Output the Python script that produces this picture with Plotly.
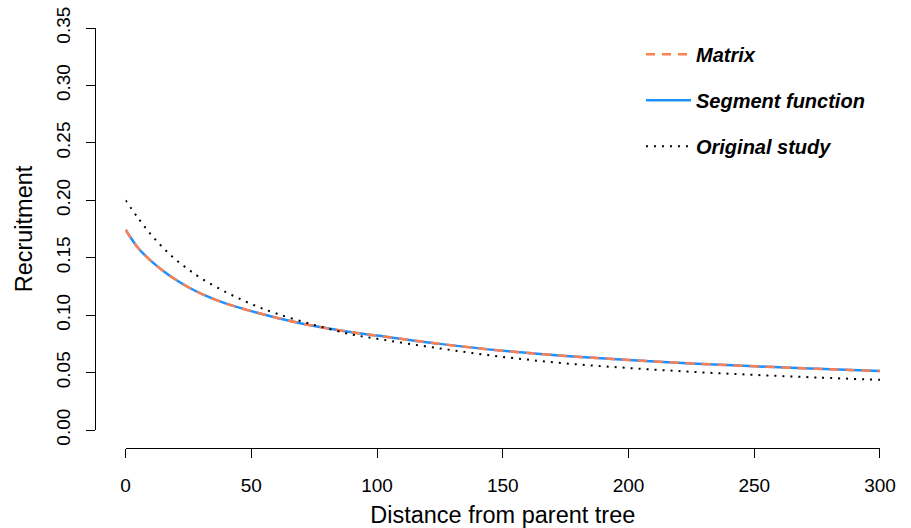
import plotly.graph_objects as go

# Distance from parent tree
distance = [0, 5, 10, 15, 20, 25, 30, 40, 50, 60, 75, 90, 100, 125, 150, 175, 200, 225, 250, 275, 300]

# Matrix and segment function (they coincide)
matrix_vals = [0.1744, 0.1585, 0.1475, 0.1385, 0.1308, 0.1243, 0.1188, 0.1100, 0.1035, 0.0978,
               0.0905, 0.0851, 0.0822, 0.0750, 0.0690, 0.0645, 0.0610, 0.0580, 0.0555, 0.0533, 0.0513]
segment_vals = [0.1744, 0.1585, 0.1475, 0.1385, 0.1308, 0.1243, 0.1188, 0.1100, 0.1035, 0.0978,
                0.0905, 0.0851, 0.0822, 0.0750, 0.0690, 0.0645, 0.0610, 0.0580, 0.0555, 0.0533, 0.0513]
# Original study
original_vals = [0.200, 0.1845, 0.1705, 0.1585, 0.1483, 0.1398, 0.1322, 0.1200, 0.1097, 0.1014,
                 0.0915, 0.0832, 0.0795, 0.0710, 0.0637, 0.0580, 0.0540, 0.0507, 0.0480, 0.0457, 0.0437]

y_ticks = [0.00, 0.05, 0.10, 0.15, 0.20, 0.25, 0.30, 0.35]
x_ticks = [0, 50, 100, 150, 200, 250, 300]

FONT = "Liberation Sans, Arial, Helvetica, sans-serif"

fig = go.Figure()
fig.add_trace(go.Scatter(x=distance, y=segment_vals, mode="lines", name="Segment function",
                         line=dict(color="#1E90FF", width=2.5, shape="spline"),
                         legendgroup="b", legendrank=2))
fig.add_trace(go.Scatter(x=distance, y=matrix_vals, mode="lines", name="Matrix",
                         line=dict(color="#FF7F50", width=2.5, dash="9px,7px", shape="spline"),
                         legendgroup="a", legendrank=1))
fig.add_trace(go.Scatter(x=distance, y=original_vals, mode="lines", name="Original study",
                         line=dict(color="black", width=2, dash="2px,6px", shape="spline"),
                         legendgroup="c", legendrank=3))

fig.update_layout(
    width=911, height=528,
    margin=dict(l=95, r=31, t=27.5, b=80, autoexpand=False),
    paper_bgcolor="white", plot_bgcolor="white",
    font=dict(family=FONT, color="black", size=19),
    showlegend=True,
    legend=dict(x=0.6955, y=0.984, xanchor="left", yanchor="top",
                bgcolor="rgba(0,0,0,0)", borderwidth=0,
                font=dict(family=FONT, size=20, color="black", weight="bold", style="italic"),
                tracegroupgap=17, itemwidth=45),
    xaxis=dict(domain=[0.0389, 1], range=[0, 300], anchor="free", position=0,
               automargin=False,
               tickvals=x_ticks, ticktext=[str(v) for v in x_ticks],
               showline=True, linecolor="black", linewidth=1,
               ticks="outside", ticklen=9, tickcolor="black",
               showgrid=False, zeroline=False, ticklabelstandoff=11,
               ticklabeloverflow="allow",
               title=dict(text="Distance from parent tree", font=dict(size=23.5), standoff=18)),
    yaxis=dict(domain=[0.0428, 1], range=[0, 0.35], anchor="free", position=0,
               automargin=False,
               tickvals=y_ticks, ticktext=[f"{v:.2f}" for v in y_ticks], tickangle=-90,
               showline=True, linecolor="black", linewidth=1,
               ticks="outside", ticklen=9, tickcolor="black",
               showgrid=False, zeroline=False, ticklabelstandoff=8,
               ticklabeloverflow="allow",
               title=dict(text="Recruitment", font=dict(size=23.5), standoff=13)),
)

fig.write_html("out.html", config={"displayModeBar": False},
               post_script="document.body.style.margin='0';")
